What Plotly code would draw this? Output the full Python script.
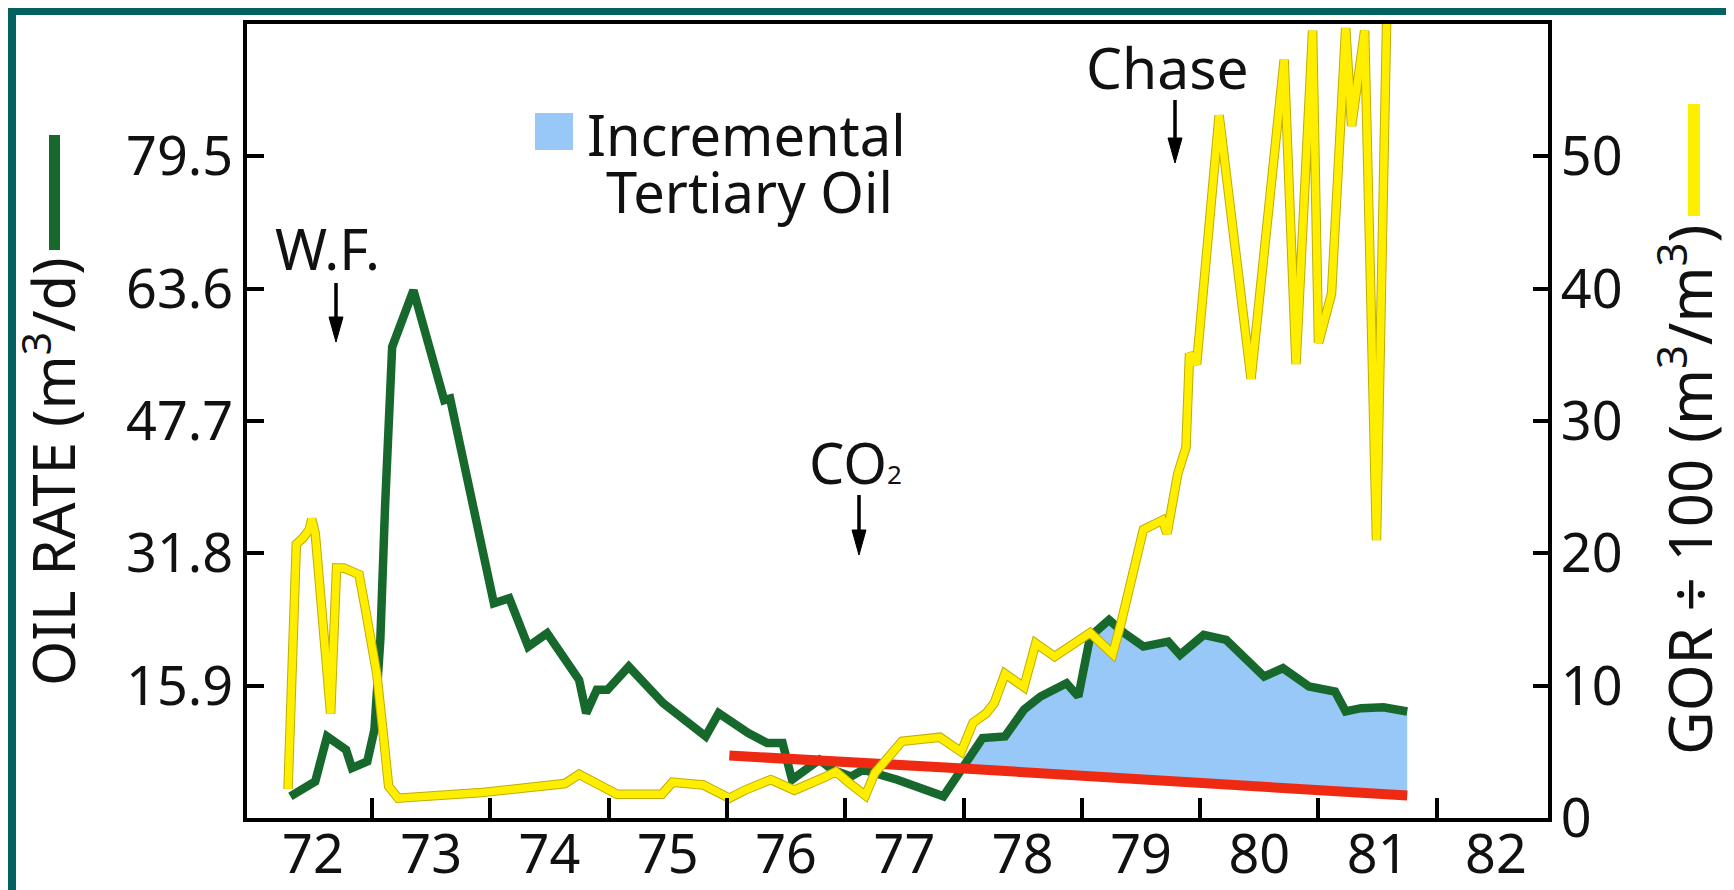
import plotly.graph_objects as go

# ---------------- data ----------------
oil_x = [71.81, 72.02, 72.12, 72.28, 72.33, 72.46, 72.52, 72.57, 72.61, 72.67, 72.85,
         73.11, 73.16, 73.53, 73.66, 73.82, 73.98, 74.25, 74.31, 74.40, 74.49, 74.67,
         74.96, 75.32, 75.43, 75.68, 75.84, 75.97, 76.05, 76.28, 76.39, 76.55, 76.65,
         76.94, 77.33, 77.50, 77.66, 77.85, 78.01, 78.15, 78.37, 78.47, 78.57, 78.73,
         78.86, 79.02, 79.09, 79.23, 79.33, 79.53, 79.72, 80.04, 80.20, 80.42, 80.64,
         80.73, 80.86, 81.05, 81.25]
oil_rate = [2.6, 4.4, 9.8, 8.2, 6.0, 6.8, 10.6, 21.4, 37.4, 56.6, 63.4,
            50.2, 50.4, 25.8, 26.4, 20.6, 22.2, 16.6, 12.6, 15.4, 15.4, 18.2,
            13.8, 9.8, 12.6, 10.2, 9.0, 9.0, 4.6, 7.0, 5.8, 5.0, 5.8,
            4.6, 2.6, 6.2, 9.6, 9.8, 13.0, 14.6, 16.2, 14.6, 21.8, 23.8,
            22.2, 20.6, 20.8, 21.2, 19.6, 22.0, 21.4, 17.0, 18.0, 15.8, 15.2,
            12.8, 13.2, 13.3, 12.8]

gor_x = [71.79, 71.86, 71.92, 71.97, 71.99, 72.02, 72.15, 72.20, 72.26, 72.36, 72.39,
         72.44, 72.54, 72.60, 72.64, 72.72, 73.40, 74.13, 74.25, 74.57, 74.95, 75.04,
         75.30, 75.52, 75.65, 75.87, 76.07, 76.33, 76.42, 76.54, 76.67, 76.75, 76.98,
         77.30, 77.48, 77.58, 77.69, 77.76, 77.85, 78.01, 78.11, 78.27, 78.57, 78.76,
         78.83, 79.02, 79.18, 79.22, 79.31, 79.38, 79.41, 79.47, 79.66, 79.93, 80.21,
         80.31, 80.45, 80.50, 80.61, 80.73, 80.78, 80.89, 80.99, 81.08]
gor = [2.2, 20.7, 21.2, 21.8, 22.6, 21.5, 7.9, 18.9, 18.9, 18.6, 18.4,
       16.0, 10.9, 5.9, 2.4, 1.5, 1.9, 2.6, 3.3, 1.8, 1.8, 2.7,
       2.5, 1.5, 2.1, 2.9, 2.1, 3.1, 3.5, 2.6, 1.7, 3.4, 5.8,
       6.1, 5.0, 7.2, 7.9, 8.7, 10.9, 9.9, 13.2, 12.2, 14.0, 12.4,
       14.7, 21.8, 22.5, 21.5, 26.0, 28.0, 35.1, 34.3, 53.1, 33.2, 57.3,
       34.3, 59.5, 35.9, 39.6, 59.7, 52.3, 59.5, 21.0, 62.0]

base_x = [75.52, 77.50, 81.25]      # waterflood decline baseline (red)
base_rate = [7.5, 5.95, 2.7]

x_ticks = [72, 73, 74, 75, 76, 77, 78, 79, 80, 81, 82]
x_minor = [72.5, 73.5, 74.5, 75.5, 76.5, 77.5, 78.5, 79.5, 80.5, 81.5]
oil_ticks = [15.9, 31.8, 47.7, 63.6, 79.5]
gor_ticks = [0, 10, 20, 30, 40, 50]

# ---------------- layout geometry (page pixels) ----------------
PAGE_OFF = 8                 # the page body offsets the figure by 8 px
W, H = 1734 - PAGE_OFF, 890 - PAGE_OFF
L, R, T, B = 247, 1548, 24, 818   # plot frame in page pixels
FONT = "Noto Sans"
TEAL = "#03615F"
GREEN = "#17682C"
YELLOW = "#FFEE00"
RED = "#EE2A12"
BLUE = "#98C8F8"


def px(X):
    return (X - L) / (R - L)


def py(Y):
    return (B - Y) / (B - T)


# incremental oil polygon: oil curve above the baseline, closed along the baseline
i0 = next(i for i, v in enumerate(oil_x) if v >= base_x[1])
poly_x = oil_x[i0:] + [base_x[-1], base_x[1]]
poly_y = oil_rate[i0:] + [base_rate[-1], base_rate[1]]

fig = go.Figure()
fig.add_trace(go.Scatter(x=poly_x, y=poly_y, fill="toself", fillcolor=BLUE,
                         mode="lines", line=dict(width=0), hoverinfo="skip",
                         showlegend=False))
fig.add_trace(go.Scatter(x=oil_x, y=oil_rate, mode="lines",
                         line=dict(color=GREEN, width=8.5), showlegend=False))
fig.add_trace(go.Scatter(x=base_x, y=base_rate, mode="lines",
                         line=dict(color=RED, width=10), showlegend=False))
fig.add_trace(go.Scatter(x=gor_x, y=gor, mode="lines", yaxis="y2",
                         line=dict(color="#BFAE00", width=9.5), showlegend=False,
                         hoverinfo="skip"))
fig.add_trace(go.Scatter(x=gor_x, y=gor, mode="lines", yaxis="y2",
                         line=dict(color=YELLOW, width=7.5), showlegend=False))

tickfont = dict(family=FONT, size=54, color="#111111")
axis_common = dict(showline=True, linecolor="black", linewidth=4, showgrid=False,
                   zeroline=False, tickfont=tickfont, tickcolor="black",
                   automargin=False)

fig.update_layout(
    template="none",
    width=W, height=H, autosize=False,
    margin=dict(l=L - PAGE_OFF, r=W - (R - PAGE_OFF), t=T - PAGE_OFF,
                b=H - (B - PAGE_OFF), pad=0),
    paper_bgcolor="white", plot_bgcolor="white",
    showlegend=False,
    xaxis=dict(range=[71.443, 82.44], tickmode="array", tickvals=x_ticks,
               ticktext=[str(v) for v in x_ticks], ticks="", mirror=True,
               ticklabelstandoff=-14,
               minor=dict(tickmode="array", tickvals=x_minor, ticks="inside",
                          ticklen=20, tickwidth=3.5, tickcolor="black", showgrid=False),
               **axis_common),
    yaxis=dict(range=[0, 95.4], tickmode="array", tickvals=oil_ticks,
               ticktext=[f"{v:.1f}" for v in oil_ticks], ticks="inside",
               ticklen=17, tickwidth=3.5, ticklabelstandoff=-1, **axis_common),
    yaxis2=dict(range=[0, 60], overlaying="y", side="right", tickmode="array",
                tickvals=gor_ticks, ticktext=[str(v) for v in gor_ticks],
                ticks="inside", ticklen=15, tickwidth=3.5, ticklabelstandoff=-2,
                **axis_common),
)

shapes = []
# teal frame (top and left bands, at the figure's own edges)
shapes.append(dict(type="rect", xref="paper", yref="paper", x0=px(-40), x1=px(W + 40),
                   y0=py(PAGE_OFF + 7), y1=py(-40), fillcolor=TEAL, line=dict(width=0)))
shapes.append(dict(type="rect", xref="paper", yref="paper", x0=px(-40), x1=px(PAGE_OFF + 8),
                   y0=py(H + 40), y1=py(-40), fillcolor=TEAL, line=dict(width=0)))
# legend swatch for incremental oil
shapes.append(dict(type="rect", xref="paper", yref="paper", x0=px(535), x1=px(573),
                   y0=py(150), y1=py(113), fillcolor=BLUE, line=dict(width=0)))
# series keys next to axis titles
shapes.append(dict(type="rect", xref="paper", yref="paper", x0=px(49), x1=px(60),
                   y0=py(250), y1=py(135), fillcolor=GREEN, line=dict(width=0)))
shapes.append(dict(type="rect", xref="paper", yref="paper", x0=px(1688), x1=px(1700),
                   y0=py(216), y1=py(104), fillcolor=YELLOW, line=dict(width=0)))


def arrow(xc, y_top, y_tip, head_len=25, head_w=7):
    shapes.append(dict(type="line", xref="paper", yref="paper", x0=px(xc), x1=px(xc),
                       y0=py(y_top), y1=py(y_tip - head_len + 4),
                       line=dict(color="black", width=3.5)))
    shapes.append(dict(type="path", xref="paper", yref="paper",
                       path=(f"M {px(xc)},{py(y_tip)} L {px(xc - head_w)},{py(y_tip - head_len)} "
                             f"L {px(xc + head_w)},{py(y_tip - head_len)} Z"),
                       fillcolor="black", line=dict(color="black", width=1)))


arrow(336, 283, 342)     # W.F.
arrow(859, 495, 555)     # CO2
arrow(1175, 100, 163)    # Chase

fig.update_layout(shapes=shapes)


def label(text, X, Y, size=56, angle=0):
    fig.add_annotation(text=text, x=px(X), y=py(Y), xref="paper", yref="paper",
                       showarrow=False, xanchor="center", yanchor="middle",
                       textangle=angle, font=dict(family=FONT, size=size, color="#111111"))


label("Incremental", 746, 134, 56)
label("Tertiary Oil", 749, 191, 56)
label("W.F.", 327, 248, 56)
label("Chase", 1167, 67, 57)
label("CO<span style='font-size:26px'>2</span>", 855, 462, 56)
label("OIL RATE (m<sup>3</sup>/d)", 50, 472, 58, -90)
label("GOR ÷ 100 (m<sup>3</sup>/m<sup>3</sup>)", 1686, 490, 60, -90)

fig.write_html("out.html")
